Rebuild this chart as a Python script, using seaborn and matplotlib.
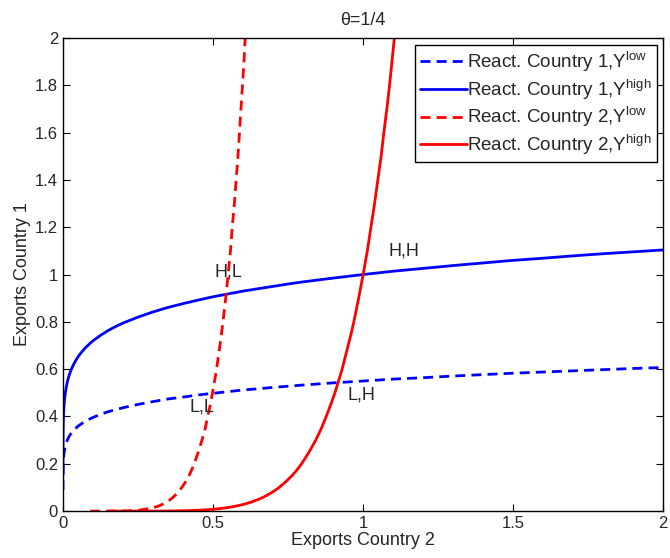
import numpy as np
import pandas as pd
import matplotlib
matplotlib.use("Agg")
import matplotlib.pyplot as plt
import seaborn as sns

# grid of the "own" variable
grid = [0, 0.00002, 0.0001, 0.0002, 0.0003, 0.0005, 0.001, 0.002, 0.003, 0.005,
        0.0075, 0.01, 0.015, 0.02, 0.025, 0.03, 0.035, 0.04, 0.05, 0.06,
        0.075, 0.09, 0.1, 0.125, 0.15, 0.175, 0.2, 0.25, 0.3, 0.35,
        0.4, 0.45, 0.5, 0.55, 0.6, 0.65, 0.7, 0.75, 0.8, 0.9,
        1.0, 1.1, 1.2, 1.3, 1.4, 1.5, 1.6, 1.7, 1.8, 1.9, 2.0]

# reaction of country 1 (y) to exports of country 2 (x)
c1_high = [0.15, 0.213, 0.268, 0.296, 0.314, 0.338, 0.373, 0.411, 0.436, 0.469,
           0.497, 0.518, 0.549, 0.572, 0.590, 0.606, 0.619, 0.631, 0.652, 0.669,
           0.691, 0.709, 0.720, 0.743, 0.763, 0.780, 0.795, 0.820, 0.842, 0.861,
           0.877, 0.892, 0.906, 0.918, 0.930, 0.940, 0.950, 0.960, 0.969, 0.985,
           1.000, 1.014, 1.026, 1.038, 1.049, 1.060, 1.069, 1.079, 1.088, 1.096, 1.104]
c1_low = [0.09, 0.117, 0.147, 0.163, 0.173, 0.186, 0.205, 0.226, 0.240, 0.258,
          0.273, 0.285, 0.302, 0.315, 0.325, 0.333, 0.340, 0.347, 0.359, 0.368,
          0.380, 0.390, 0.396, 0.409, 0.420, 0.429, 0.437, 0.451, 0.463, 0.474,
          0.482, 0.491, 0.498, 0.505, 0.512, 0.517, 0.523, 0.528, 0.533, 0.542,
          0.550, 0.558, 0.564, 0.571, 0.577, 0.583, 0.588, 0.593, 0.598, 0.603, 0.607]

# reaction of country 2 (x) to exports of country 1 (y)
c2_high = [0.15, 0.213, 0.268, 0.296, 0.314, 0.338, 0.373, 0.411, 0.436, 0.469,
           0.497, 0.518, 0.549, 0.572, 0.590, 0.606, 0.619, 0.631, 0.652, 0.669,
           0.691, 0.709, 0.720, 0.743, 0.763, 0.780, 0.795, 0.820, 0.842, 0.861,
           0.877, 0.892, 0.906, 0.918, 0.930, 0.940, 0.950, 0.960, 0.969, 0.985,
           1.000, 1.014, 1.026, 1.038, 1.049, 1.060, 1.069, 1.079, 1.088, 1.096, 1.104]
c2_low = [0.09, 0.117, 0.147, 0.163, 0.173, 0.186, 0.205, 0.226, 0.240, 0.258,
          0.273, 0.285, 0.302, 0.315, 0.325, 0.333, 0.340, 0.347, 0.359, 0.368,
          0.380, 0.390, 0.396, 0.409, 0.420, 0.429, 0.437, 0.451, 0.463, 0.474,
          0.482, 0.491, 0.498, 0.505, 0.512, 0.517, 0.523, 0.528, 0.533, 0.542,
          0.550, 0.558, 0.564, 0.571, 0.577, 0.583, 0.588, 0.593, 0.598, 0.603, 0.607]

labels = ['H,L', 'H,H', 'L,L', 'L,H']
label_x = [0.505, 1.083, 0.423, 0.947]
label_y = [1.01, 1.10, 0.44, 0.49]

sns.set_style("ticks")
plt.rcParams['font.family'] = ['Liberation Sans', 'DejaVu Sans']
plt.rcParams['mathtext.fontset'] = 'custom'
plt.rcParams['mathtext.rm'] = 'Liberation Sans'
plt.rcParams['xtick.direction'] = 'in'
plt.rcParams['ytick.direction'] = 'in'

fig = plt.figure(figsize=(6.7, 5.58), dpi=100)
ax = fig.add_axes([0.094, 0.084, 0.896, 0.848])

dash = (0, (3.6, 2.2))
lw = 2.0
sns.lineplot(x=grid, y=c1_low, ax=ax, color='#0000ff', lw=lw, sort=False,
             label='React. Country 1,Y$^{\\mathrm{low}}$')
ax.lines[-1].set_linestyle(dash)
sns.lineplot(x=grid, y=c1_high, ax=ax, color='#0000ff', lw=lw, sort=False,
             label='React. Country 1,Y$^{\\mathrm{high}}$')
sns.lineplot(x=c2_low, y=grid, ax=ax, color='#ff0000', lw=lw, sort=False,
             label='React. Country 2,Y$^{\\mathrm{low}}$')
ax.lines[-1].set_linestyle(dash)
sns.lineplot(x=c2_high, y=grid, ax=ax, color='#ff0000', lw=lw, sort=False,
             label='React. Country 2,Y$^{\\mathrm{high}}$')

for t, x, y in zip(labels, label_x, label_y):
    ax.text(x, y, t, fontsize=13, va='center', ha='left')

ax.set_xlim(0, 2)
ax.set_ylim(0, 2)
ax.set_xticks([0, 0.5, 1, 1.5, 2])
ax.set_xticklabels(['0', '0.5', '1', '1.5', '2'])
ax.set_yticks(np.arange(0, 2.01, 0.2))
ax.set_yticklabels(['0', '0.2', '0.4', '0.6', '0.8', '1', '1.2', '1.4', '1.6', '1.8', '2'])
ax.tick_params(labelsize=12, length=5, width=0.8, top=True, right=True, color='black')
for s in ax.spines.values():
    s.set_visible(True)
    s.set_color('black')
    s.set_linewidth(1.0)

ax.set_xlabel('Exports Country 2', fontsize=13, labelpad=1)
ax.set_ylabel('Exports Country 1', fontsize=13, labelpad=3)
ax.set_title('\u03b8=1/4', fontsize=13, pad=9)

leg = ax.legend(loc='upper right', fontsize=13.5, handlelength=2.5, handletextpad=0.05,
                fancybox=False, framealpha=1, edgecolor='black', borderpad=0.25,
                labelspacing=0.15, borderaxespad=0.35)
leg.get_frame().set_linewidth(1.0)

fig.savefig('out.png', dpi=100)
